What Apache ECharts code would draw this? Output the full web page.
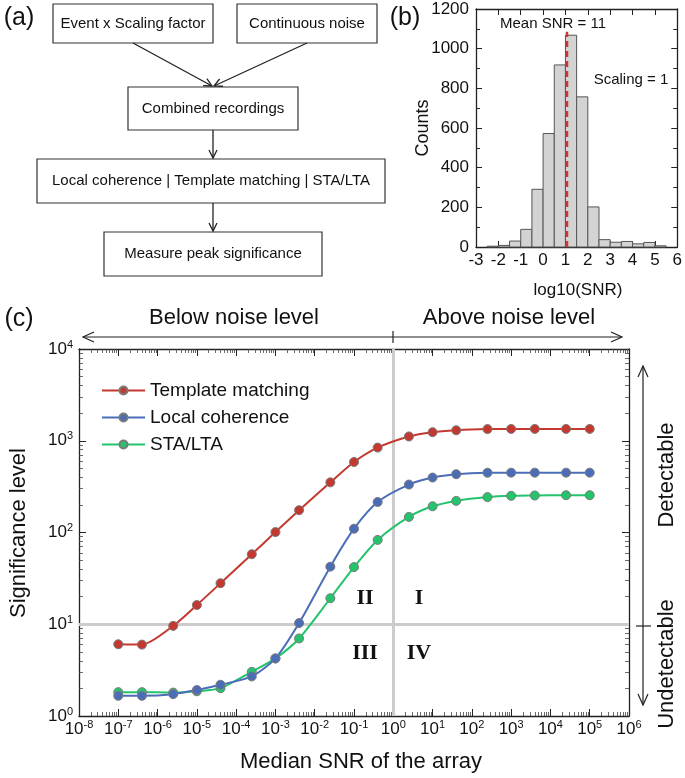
<!DOCTYPE html>
<html><head><meta charset="utf-8">
<script src="https://cdn.jsdelivr.net/npm/echarts@6/dist/echarts.min.js"></script>
<style>html,body{margin:0;padding:0;background:#fff}#c{width:685px;height:778px}</style>
</head><body><div id="c"></div>
<script>
// ---------- Panel (b) data ----------
const binEdges = [-2.5,-2,-1.5,-1,-0.5,0,0.5,1,1.5,2,2.5,3,3.5,4,4.5,5,5.5];
const binCounts = [4, 8, 30, 89, 291, 572, 918, 1068, 757, 202, 37, 24, 28, 16, 23, 6];
const meanLogSNR = 1.07;
const meanLineTop = 1085;

// ---------- Panel (c) data ----------
const snrValues = [1e-7, 4e-7, 2.5e-6, 1e-5, 4e-5, 2.5e-4, 1e-3, 4e-3, 2.5e-2, 0.1, 0.4, 2.5, 10, 40, 250, 1000, 4000, 25000, 1e5];
const templateMatching = [6.05, 6.0, 9.6, 16.2, 28, 58, 101, 175, 352, 587, 842, 1114, 1240, 1300, 1340, 1345, 1345, 1345, 1345];
const localCoherence = [1.66, 1.66, 1.73, 1.92, 2.19, 2.70, 4.24, 10.3, 42.4, 110, 215, 333, 397, 432, 448, 449, 449, 449, 449];
const staLta = [1.82, 1.82, 1.80, 1.86, 2.01, 3.03, 4.24, 7.0, 19.2, 42, 83, 148, 193, 221, 243, 251, 253, 255, 255];
const seriesNames = ['Template matching', 'Local coherence', 'STA/LTA'];
const xDecades = [-8,-7,-6,-5,-4,-3,-2,-1,0,1,2,3,4,5,6];
const yDecades = [0,1,2,3,4];
const detectThreshold = 10;
const noiseLevel = 1;

const FONT = "'Liberation Sans', Arial, Helvetica, sans-serif";
const SERIF = "'Liberation Serif', 'Times New Roman', serif";
const colors = ['#c4392f', '#4b6db8', '#23c46c'];

const xMajor = xDecades.map(e => Math.pow(10, e));
const yMajor = yDecades.map(e => Math.pow(10, e));
function minorOf(decs){ const out=[]; for (let i=0;i<decs.length-1;i++){ for(let k=2;k<=9;k++) out.push(k*Math.pow(10,decs[i])); } return out; }
const xMinor = minorOf(xDecades);
const yMinor = minorOf(yDecades);

const supFmt = v => '{b|10}{s|' + Math.round(Math.log10(v)) + '}';
const supRich = { b: {fontSize: 17, fontFamily: FONT, color:'#111', lineHeight: 20}, s: {fontSize: 11, fontFamily: FONT, color:'#111', verticalAlign:'top', lineHeight: 12} };

function txt(x, y, text, size, opts) {
  opts = opts || {};
  return { type:'text', x:x, y:y, rotation: opts.rot || 0, z: 50,
    style:{ text:text, fontSize:size, fontFamily: opts.family || FONT, fontWeight: opts.weight || 'normal', fill:'#111', align:'center', verticalAlign:'middle' } };
}
function box(x, y, w, h) {
  return { type:'rect', shape:{x:x, y:y, width:w, height:h}, style:{fill:'#fff', stroke:'#333', lineWidth:1.2}, z: 40 };
}
function seg(x1,y1,x2,y2,w){ return { type:'line', shape:{x1:x1,y1:y1,x2:x2,y2:y2}, style:{stroke:'#222', lineWidth:w||1.3}, z:40 }; }
function arrow(x1,y1,x2,y2,hl,hw,w){
  const dx=x2-x1, dy=y2-y1, L=Math.hypot(dx,dy), ux=dx/L, uy=dy/L, px=-uy, py=ux;
  const bx=x2-ux*hl, by=y2-uy*hl;
  return [seg(x1,y1,x2,y2,w), { type:'polyline', shape:{points:[[bx+px*hw,by+py*hw],[x2,y2],[bx-px*hw,by-py*hw]]}, style:{stroke:'#222', fill:null, lineWidth:w||1.3}, z:40 }];
}

const graphics = [
  txt(19, 18, '(a)', 25), txt(405, 18, '(b)', 25), txt(19, 319, '(c)', 25),
  box(53, 4, 160, 39), txt(133, 24, 'Event x Scaling factor', 15),
  box(237, 4, 140, 39), txt(307, 24, 'Continuous noise', 15),
  box(128, 87, 170, 43), txt(213, 109, 'Combined recordings', 15),
  box(37, 159, 348, 44), txt(211, 181, 'Local coherence | Template matching | STA/LTA', 15),
  box(104, 232, 218, 44), txt(213, 254, 'Measure peak significance', 15),
  ...arrow(133, 43, 212, 86, 8, 4),
  ...arrow(307, 43, 214, 86, 8, 4),
  ...arrow(213, 130, 213, 158, 8, 4),
  ...arrow(213, 203, 213, 231, 8, 4),
  txt(553, 24, 'Mean SNR = 11', 15), txt(631, 80, 'Scaling = 1', 15),
  txt(423, 128, 'Counts', 18, {rot: Math.PI/2}),
  txt(578, 290, 'log10(SNR)', 17),
  txt(234, 318, 'Below noise level', 22), txt(509, 318, 'Above noise level', 22),
  ...arrow(393, 337, 83, 337, 11, 5, 1.2),
  ...arrow(393, 337, 622, 337, 11, 5, 1.2),
  seg(393, 331, 393, 343, 1.2),
  ...arrow(643, 626, 643, 366, 11, 5, 1.2),
  ...arrow(643, 626, 643, 705, 11, 5, 1.2),
  seg(636, 626, 651, 626, 1.2),
  txt(667, 475, 'Detectable', 22, {rot: Math.PI/2}),
  txt(667, 664, 'Undetectable', 22, {rot: Math.PI/2}),
  txt(19, 533, 'Significance level', 22, {rot: Math.PI/2}),
  txt(361, 762, 'Median SNR of the array', 22),
  txt(365, 598, 'II', 22, {family: SERIF, weight:'bold'}),
  txt(419, 598, 'I', 22, {family: SERIF, weight:'bold'}),
  txt(365, 653, 'III', 22, {family: SERIF, weight:'bold'}),
  txt(419, 653, 'IV', 22, {family: SERIF, weight:'bold'})
];

const axLine = {show:true, onZero:false, lineStyle:{color:'#222', width:1.3}};
const noSplit = {show:false};

const option = {
  animation: false,
  backgroundColor: '#fff',
  textStyle: {fontFamily: FONT},
  grid: [
    {left: 476, top: 9, width: 202, height: 238, containLabel: false},
    {left: 79, top: 349, width: 550, height: 367, containLabel: false}
  ],
  legend: {
    data: seriesNames, orient: 'vertical', left: 96, top: 376, itemGap: 8,
    itemWidth: 43, itemHeight: 10, textStyle: {fontSize: 19, fontFamily: FONT, color:'#111'}
  },
  xAxis: [
    {gridIndex:0, type:'value', min:-3, max:6, interval:1, position:'bottom', axisLine:axLine,
     axisTick:{inside:true, length:6, lineStyle:{color:'#222'}}, splitLine:noSplit,
     axisLabel:{fontSize:17, color:'#111', margin:5, fontFamily: FONT}},
    {gridIndex:0, type:'value', min:-3, max:6, interval:1, position:'top', axisLine:axLine,
     axisTick:{inside:true, length:6, lineStyle:{color:'#222'}}, axisLabel:{show:false}, splitLine:noSplit},
    {gridIndex:1, type:'log', logBase:10, min:1e-8, max:1e6, position:'bottom', axisLine:axLine,
     axisTick:{inside:true, length:7, customValues: xMajor, lineStyle:{color:'#222'}}, splitLine:noSplit,
     axisLabel:{customValues: xMajor, formatter: supFmt, rich: supRich, margin: 3}},
    {gridIndex:1, type:'log', logBase:10, min:1e-8, max:1e6, position:'top', axisLine:axLine,
     axisTick:{inside:true, length:7, customValues: xMajor, lineStyle:{color:'#222'}}, axisLabel:{show:false}, splitLine:noSplit},
    {gridIndex:1, type:'log', logBase:10, min:1e-8, max:1e6, position:'bottom', axisLine:{show:false},
     axisTick:{inside:true, length:4, customValues: xMinor, lineStyle:{color:'#444', width:0.8}}, axisLabel:{show:false}, splitLine:noSplit},
    {gridIndex:1, type:'log', logBase:10, min:1e-8, max:1e6, position:'top', axisLine:{show:false},
     axisTick:{inside:true, length:4, customValues: xMinor, lineStyle:{color:'#444', width:0.8}}, axisLabel:{show:false}, splitLine:noSplit}
  ],
  yAxis: [
    {gridIndex:0, type:'value', min:0, max:1200, interval:200, position:'left', axisLine:axLine,
     axisTick:{inside:true, length:6, lineStyle:{color:'#222'}}, minorTick:{show:true, splitNumber:2, length:4, lineStyle:{color:'#222'}},
     splitLine:noSplit, minorSplitLine:{show:false},
     axisLabel:{fontSize:17, color:'#111', margin:7, fontFamily: FONT, formatter: v => String(v)}},
    {gridIndex:0, type:'value', min:0, max:1200, interval:200, position:'right', axisLine:axLine,
     axisTick:{inside:true, length:6, lineStyle:{color:'#222'}}, minorTick:{show:true, splitNumber:2, length:4, lineStyle:{color:'#222'}},
     splitLine:noSplit, minorSplitLine:{show:false}, axisLabel:{show:false}},
    {gridIndex:1, type:'log', logBase:10, min:1, max:1e4, position:'left', axisLine:axLine,
     axisTick:{inside:true, length:7, customValues: yMajor, lineStyle:{color:'#222'}}, splitLine:noSplit,
     axisLabel:{customValues: yMajor, formatter: supFmt, rich: supRich, margin: 6}},
    {gridIndex:1, type:'log', logBase:10, min:1, max:1e4, position:'right', axisLine:axLine,
     axisTick:{inside:true, length:7, customValues: yMajor, lineStyle:{color:'#222'}}, axisLabel:{show:false}, splitLine:noSplit},
    {gridIndex:1, type:'log', logBase:10, min:1, max:1e4, position:'left', axisLine:{show:false},
     axisTick:{inside:true, length:4, customValues: yMinor, lineStyle:{color:'#444', width:0.8}}, axisLabel:{show:false}, splitLine:noSplit},
    {gridIndex:1, type:'log', logBase:10, min:1, max:1e4, position:'right', axisLine:{show:false},
     axisTick:{inside:true, length:4, customValues: yMinor, lineStyle:{color:'#444', width:0.8}}, axisLabel:{show:false}, splitLine:noSplit}
  ],
  series: [
    {
      type:'custom', xAxisIndex:0, yAxisIndex:0, name:'hist',
      data: binCounts.map((c,i) => [binEdges[i], binEdges[i+1], c]),
      encode: {x:[0,1], y:2},
      renderItem: function(params, api){
        const p0 = api.coord([api.value(0), api.value(2)]);
        const p1 = api.coord([api.value(1), 0]);
        return {type:'rect', shape:{x:p0[0], y:p0[1], width:p1[0]-p0[0], height:p1[1]-p0[1]},
                style:{fill:'#d3d3d3', stroke:'#555', lineWidth:1}};
      }
    },
    {
      type:'line', xAxisIndex:0, yAxisIndex:0, name:'mean', symbol:'none', z:5,
      data: [[meanLogSNR, 0], [meanLogSNR, meanLineTop]],
      lineStyle:{color:'#c8383a', width:2.5, type:[6,4]}
    },
    {
      type:'line', xAxisIndex:2, yAxisIndex:2, name:'guides', data:[], symbol:'none',
      markLine:{silent:true, symbol:'none', z:1, label:{show:false},
        lineStyle:{color:'#cccccc', width:3, type:'solid'},
        data:[{yAxis: detectThreshold}, {xAxis: noiseLevel}]}
    },
    ...[templateMatching, localCoherence, staLta].map((arr, i) => ({
      type:'line', xAxisIndex:2, yAxisIndex:2, name: seriesNames[i], z: 4 + (2 - i),
      data: snrValues.map((x, j) => [x, arr[j]]),
      symbol:'circle', symbolSize:9, smooth: 0.25,
      lineStyle:{color: colors[i], width:2},
      itemStyle:{color: colors[i], borderColor:'#7a7a7a', borderWidth:1}
    }))
  ],
  graphic: graphics
};

const chart = echarts.init(document.getElementById('c'), null, {renderer:'canvas'});
chart.setOption(option);
</script>
</body></html>
